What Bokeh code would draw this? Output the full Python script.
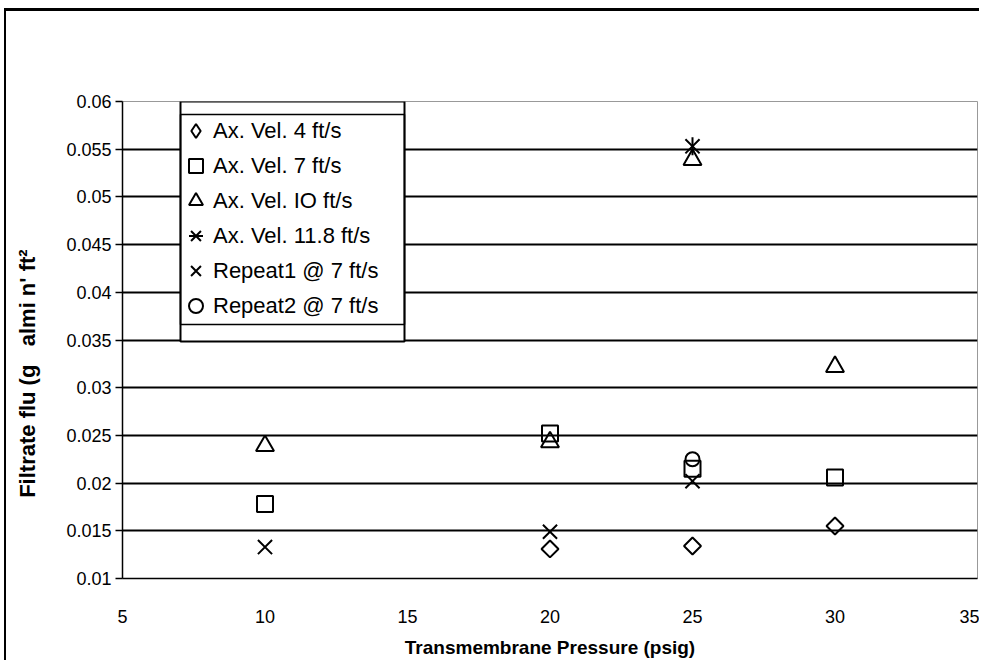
from bokeh.plotting import figure
from bokeh.models import Range1d, Legend, LegendItem, BoxAnnotation, FixedTicker
from bokeh.embed import file_html
from bokeh.resources import INLINE
import math

# ---- data ----
pressure_4 = [20, 25, 30]
flux_4 = [0.0131, 0.0134, 0.0155]
pressure_7 = [10, 20, 25, 30]
flux_7 = [0.0178, 0.0252, 0.0215, 0.0206]
pressure_10 = [10, 20, 25, 30]
flux_10 = [0.0239, 0.0243, 0.0539, 0.0322]
pressure_118 = [25]
flux_118 = [0.0553]
pressure_r1 = [10, 20, 25]
flux_r1 = [0.0133, 0.0149, 0.0202]
pressure_r2 = [25]
flux_r2 = [0.0225]

series_labels = ["Ax. Vel. 4 ft/s", "Ax. Vel. 7 ft/s", "Ax. Vel. IO ft/s",
                 "Ax. Vel. 11.8 ft/s", "Repeat1 @ 7 ft/s", "Repeat2 @ 7 ft/s"]

x_ticks = [5, 10, 15, 20, 25, 30, 35]
y_ticks = [0.01, 0.015, 0.02, 0.025, 0.03, 0.035, 0.04, 0.045, 0.05, 0.055, 0.06]
y_tick_labels = ["0.01", "0.015", "0.02", "0.025", "0.03", "0.035",
                 "0.04", "0.045", "0.05", "0.055", "0.06"]

x_title = "Transmembrane Pressure (psig)"
y_title = "Filtrate flu (g\u00a0\u00a0\u00a0almi n' ft\u00b2" + "\u00a0" * 11

FONT = "Liberation Sans"

p = figure(width=975, height=652, output_backend="svg", toolbar_location=None,
           x_range=Range1d(5, 35), y_range=Range1d(0.01, 0.06),
           min_border_left=116, min_border_top=90, min_border_right=4,
           min_border_bottom=85)
# outer chart-area frame: top and left edges
p.styles = {"border-top": "3px solid black", "border-left": "2px solid black",
            "margin-top": "8px", "margin-left": "4px"}

p.background_fill_color = "white"
p.border_fill_color = "white"
p.outline_line_color = "#999999"
p.outline_line_width = 1

# axes
p.xaxis.ticker = FixedTicker(ticks=x_ticks)
p.yaxis.ticker = FixedTicker(ticks=y_ticks)
p.yaxis.major_label_overrides = {t: s for t, s in zip(y_ticks, y_tick_labels)}
for ax in (p.xaxis, p.yaxis):
    ax.axis_line_color = "black"
    ax.axis_line_width = 1.5
    ax.minor_tick_line_color = None
    ax.major_label_text_font = FONT
    ax.major_label_text_font_size = "18px"
    ax.major_label_text_color = "black"
    ax.axis_label_text_font = FONT
    ax.axis_label_text_font_style = "bold"
    ax.axis_label_text_color = "black"

p.xaxis.major_tick_line_color = None
p.xaxis.major_tick_out = 0
p.xaxis.major_tick_in = 0
p.xaxis.major_label_standoff = 31
p.xaxis.axis_label = x_title
p.xaxis.axis_label_text_font_size = "19px"
p.xaxis.axis_label_standoff = 11

p.yaxis.major_tick_line_color = "black"
p.yaxis.major_tick_line_width = 1.5
p.yaxis.major_tick_out = 7
p.yaxis.major_tick_in = 0
p.yaxis.major_label_standoff = 4
p.yaxis.axis_label = y_title
p.yaxis.axis_label_text_font_size = "22px"
p.yaxis.axis_label_standoff = 23

p.xgrid.grid_line_color = None
p.ygrid.ticker = FixedTicker(ticks=y_ticks)
p.ygrid.grid_line_color = "black"
p.ygrid.grid_line_width = 2

# ---- markers ----
common = dict(fill_color=None, line_color="black", line_width=2)
# diamonds drawn as squares turned 45 degrees (square-shaped diamonds)
r4 = p.scatter(pressure_4, flux_4, marker="square", angle=math.pi / 4, size=12, **common)
# legend ignores marker angle, so the legend swatch uses a hidden diamond renderer
r4_key = p.scatter(pressure_4, flux_4, marker="diamond", size=17, visible=False, **common)
r7 = p.scatter(pressure_7, flux_7, marker="square", size=16, **common)
r10 = p.scatter(pressure_10, flux_10, marker="triangle", size=18, **common)
r118a = p.scatter(pressure_118, flux_118, marker="x", size=20, **common)
r118b = p.scatter(pressure_118, flux_118, marker="dash", angle=math.pi / 2, size=18, **common)
rr1 = p.scatter(pressure_r1, flux_r1, marker="x", size=20, **common)
rr2 = p.scatter(pressure_r2, flux_r2, marker="circle", size=14, **common)

# ---- legend box (double frame), canvas pixels ----
box_units = dict(left_units="canvas", right_units="canvas",
                 top_units="canvas", bottom_units="canvas")
outer_box = BoxAnnotation(left=172, right=396, top=87, bottom=327,
                          fill_color="white", fill_alpha=1.0,
                          line_color="black", line_width=2, line_alpha=1.0,
                          **box_units)
inner_box = BoxAnnotation(left=172, right=396, top=100, bottom=310,
                          fill_alpha=0.0, line_color="black", line_width=1.5,
                          line_alpha=1.0, **box_units)
p.add_layout(outer_box)
p.add_layout(inner_box)

legend = Legend(items=[
    LegendItem(label=series_labels[0], renderers=[r4_key]),
    LegendItem(label=series_labels[1], renderers=[r7]),
    LegendItem(label=series_labels[2], renderers=[r10]),
    LegendItem(label=series_labels[3], renderers=[r118a, r118b]),
    LegendItem(label=series_labels[4], renderers=[rr1]),
    LegendItem(label=series_labels[5], renderers=[rr2]),
], location=(56, 255))
legend.padding = 4
legend.margin = 0
legend.spacing = 0
legend.glyph_width = 35
legend.glyph_height = 35
legend.label_height = 35
legend.label_standoff = 0
legend.label_text_font = FONT
legend.label_text_font_size = "22px"
legend.label_text_color = "black"
legend.border_line_color = None
legend.background_fill_alpha = 0.0
legend.inactive_fill_alpha = 0.0
p.add_layout(legend)

open("out.html", "w").write(file_html(p, INLINE))
